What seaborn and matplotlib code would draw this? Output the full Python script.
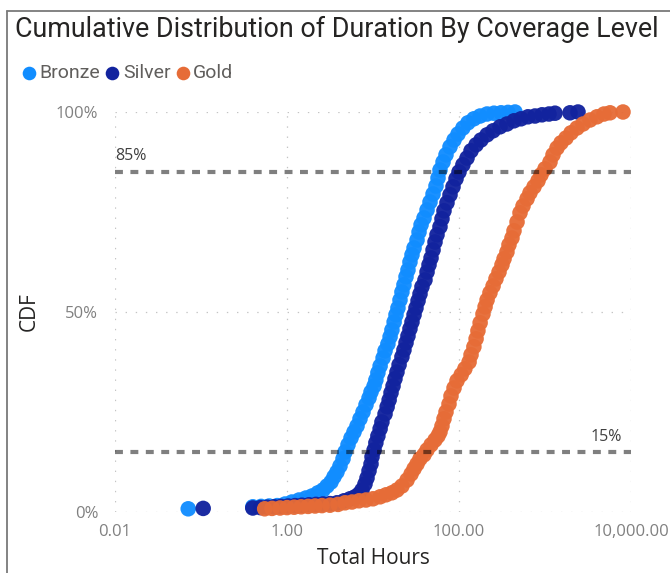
import matplotlib
matplotlib.use("Agg")
import matplotlib.pyplot as plt
import pandas as pd
import seaborn as sns
from matplotlib.lines import Line2D

# ---- data -------------------------------------------------------------
levels = ["Bronze", "Silver", "Gold"]
level_colors = ["#118DFF", "#12239E", "#E66C37"]

bronze_hours = [0.071, 0.40, 0.50, 0.62, 0.77, 0.95, 1.14, 1.38, 1.66, 1.95, 2.29, 2.62,
                2.92, 3.25, 3.52, 3.81, 4.13, 4.48, 4.73, 5.12, 5.55, 6.01, 6.52, 7.06,
                7.65, 8.29, 8.99, 9.48, 10.3, 10.8, 11.4, 12.1, 13.1, 13.8, 14.9, 15.8,
                16.6, 17.6, 18.5, 19.5, 20.6, 21.7, 22.9, 24.2, 25.5, 26.9, 28.4, 30.0,
                32.5, 34.3, 36.2, 39.2, 42.5, 46.0, 49.9, 54.0, 57.0, 60.1, 65.2, 70.6,
                78.6, 87.5, 97.4, 111, 127, 149, 176, 212, 255, 308, 371, 448]
bronze_cdf = [0.008, 0.013, 0.014, 0.015, 0.016, 0.020, 0.025, 0.030, 0.035, 0.040, 0.048, 0.055,
              0.065, 0.075, 0.088, 0.100, 0.115, 0.133, 0.150, 0.168, 0.185, 0.200, 0.215, 0.233,
              0.250, 0.268, 0.285, 0.300, 0.315, 0.330, 0.348, 0.365, 0.385, 0.403, 0.420, 0.438,
              0.455, 0.475, 0.493, 0.510, 0.530, 0.550, 0.568, 0.588, 0.605, 0.625, 0.643, 0.660,
              0.680, 0.700, 0.718, 0.735, 0.755, 0.775, 0.795, 0.815, 0.835, 0.855, 0.875, 0.893,
              0.913, 0.930, 0.945, 0.960, 0.973, 0.983, 0.990, 0.995, 0.997, 0.998, 0.999, 1.000]

silver_hours = [0.106, 0.40, 0.49, 0.59, 0.71, 0.85, 1.03, 1.24, 1.49, 1.80, 2.17, 2.62,
                3.16, 3.81, 4.60, 5.40, 6.18, 6.88, 7.45, 8.07, 8.52, 8.99, 9.48, 9.74,
                10.3, 10.8, 11.4, 12.1, 12.7, 13.8, 14.6, 15.4, 16.2, 17.1, 18.0, 19.0,
                20.1, 21.7, 22.9, 24.2, 25.5, 26.9, 28.4, 30.0, 31.6, 33.4, 35.2, 37.1,
                40.2, 42.5, 44.8, 47.3, 49.9, 52.6, 55.5, 60.1, 63.4, 66.9, 72.5, 78.6,
                85.2, 92.3, 100, 111, 124, 138, 158, 180, 212, 249, 300, 361,
                436, 526, 634, 765, 923, 1113, 1307, 1953, 2420]
silver_cdf = [0.009, 0.010, 0.011, 0.012, 0.013, 0.014, 0.015, 0.016, 0.017, 0.018, 0.019, 0.020,
              0.021, 0.023, 0.028, 0.033, 0.038, 0.045, 0.055, 0.070, 0.085, 0.103, 0.120, 0.138,
              0.155, 0.173, 0.190, 0.208, 0.225, 0.245, 0.263, 0.280, 0.298, 0.315, 0.333, 0.350,
              0.368, 0.388, 0.405, 0.423, 0.440, 0.458, 0.475, 0.493, 0.510, 0.528, 0.545, 0.563,
              0.580, 0.600, 0.618, 0.635, 0.655, 0.675, 0.693, 0.713, 0.733, 0.753, 0.773, 0.793,
              0.813, 0.833, 0.850, 0.868, 0.885, 0.903, 0.918, 0.930, 0.943, 0.953, 0.963, 0.970,
              0.978, 0.983, 0.988, 0.990, 0.993, 0.995, 0.997, 0.998, 1.000]

gold_hours = [0.55, 0.67, 0.83, 1.00, 1.21, 1.46, 1.76, 2.12, 2.55, 3.16, 3.92, 4.73,
              5.70, 6.88, 8.29, 10.0, 12.1, 14.2, 16.6, 19.0, 21.7, 24.9, 27.7, 30.0,
              32.5, 35.2, 39.2, 42.5, 47.3, 52.6, 57.0, 60.1, 63.4, 66.9, 70.6, 76.5,
              80.7, 87.5, 94.8, 106, 117, 131, 138, 149, 158, 166, 176, 190,
              201, 212, 229, 249, 269, 292, 316, 334, 361, 381, 413, 436,
              473, 512, 555, 618, 669, 745, 829, 899, 1000, 1143, 1239, 1379,
              1535, 1755, 2006, 2356, 2767, 3337, 4024, 4853, 5700, 8072]
gold_cdf = [0.008, 0.009, 0.010, 0.011, 0.012, 0.013, 0.014, 0.015, 0.016, 0.017, 0.019, 0.023,
            0.025, 0.028, 0.030, 0.033, 0.038, 0.043, 0.048, 0.055, 0.065, 0.080, 0.095, 0.108,
            0.120, 0.133, 0.143, 0.155, 0.168, 0.180, 0.190, 0.200, 0.215, 0.233, 0.250, 0.270,
            0.290, 0.310, 0.328, 0.343, 0.358, 0.375, 0.393, 0.413, 0.433, 0.453, 0.473, 0.495,
            0.513, 0.530, 0.548, 0.565, 0.583, 0.600, 0.618, 0.633, 0.650, 0.668, 0.685, 0.703,
            0.725, 0.748, 0.765, 0.783, 0.798, 0.813, 0.828, 0.843, 0.858, 0.875, 0.893, 0.910,
            0.923, 0.935, 0.948, 0.960, 0.970, 0.980, 0.988, 0.995, 0.998, 1.000]

x_ticks = [0.01, 1, 100, 10000]
x_tick_labels = ["0.01", "1.00", "100.00", "10,000.00"]
y_ticks = [0, 0.5, 1]
y_tick_labels = ["0%", "50%", "100%"]
ref_levels = [0.85, 0.15]
ref_labels = ["85%", "15%"]

title = "Cumulative Distribution of Duration By Coverage Level"

df = pd.concat([
    pd.DataFrame({"hours": bronze_hours, "cdf": bronze_cdf, "level": "Bronze"}),
    pd.DataFrame({"hours": silver_hours, "cdf": silver_cdf, "level": "Silver"}),
    pd.DataFrame({"hours": gold_hours, "cdf": gold_cdf, "level": "Gold"}),
], ignore_index=True)

# ---- figure -----------------------------------------------------------
sns.set_style("white")
plt.rcParams["font.family"] = ["Open Sans", "DejaVu Sans"]

W, H = 670, 573
fig = plt.figure(figsize=(W / 100, H / 100), dpi=100)
ax = fig.add_axes([115 / W, 1 - 512 / H, (631 - 115) / W, 400 / H])
renderer = fig.canvas.get_renderer()


def fit_width(txt, target_px):
    bb = txt.get_window_extent(renderer)
    txt.set_fontsize(txt.get_fontsize() * target_px / bb.width)


# visual frame (left and top edges)
frame_color = "#7a7a7a"
fig.add_artist(Line2D([7 / W, 7 / W], [0, 1 - 11 / H], color=frame_color, lw=1.3,
                      transform=fig.transFigure))
fig.add_artist(Line2D([7 / W, 1], [1 - 11 / H, 1 - 11 / H], color=frame_color, lw=1.3,
                      transform=fig.transFigure))

# title
t = fig.text(15 / W, 1 - 29 / H, title, ha="left", va="center", color="#252423",
             fontsize=16, family=["Roboto", "DejaVu Sans"])
fit_width(t, 645)

# legend
lx = 22
cy = 1 - 73 / H
for name, color in zip(levels, level_colors):
    fig.add_artist(Line2D([(lx + 6.5) / W], [cy], marker="o", ms=9.8, color=color,
                          mec="none", transform=fig.transFigure))
    lt = fig.text((lx + 17) / W, cy, name, ha="left", va="center", color="#605E5C",
                  fontsize=14, family=["Roboto", "DejaVu Sans"])
    lx = lt.get_window_extent(renderer).x1 + 6

# axes
ax.set_xscale("log")
ax.set_xlim(0.01, 10000)
ax.set_ylim(0, 1)
for s in ax.spines.values():
    s.set_visible(False)

grid_kw = dict(color="#c4c4c4", lw=0.9, ls=(0, (1.1, 7.0)), zorder=1)
for xt in x_ticks:
    ax.axvline(xt, **grid_kw)
for yt in y_ticks:
    ax.axhline(yt, **grid_kw)

sns.scatterplot(data=df, x="hours", y="cdf", hue="level", hue_order=levels,
                palette=level_colors, s=125, alpha=0.96, linewidth=0, legend=False,
                ax=ax, clip_on=False, zorder=3)

for lvl in ref_levels:
    ax.axhline(lvl, color="black", alpha=0.5, lw=3, ls=(0, (1.9, 1.8)), zorder=4)

ax.annotate(ref_labels[0], xy=(0, ref_levels[0]), xycoords=("axes fraction", "data"),
            xytext=(0, 16), textcoords="offset pixels", ha="left", va="center",
            color="#404040", fontsize=11.5)
ax.annotate(ref_labels[1], xy=(1, ref_levels[1]), xycoords=("axes fraction", "data"),
            xytext=(-9, 15), textcoords="offset pixels", ha="right", va="center",
            color="#404040", fontsize=11.5)

ax.set_xticks(x_ticks, x_tick_labels)
ax.set_yticks(y_ticks, y_tick_labels)
ax.xaxis.set_minor_locator(matplotlib.ticker.NullLocator())
ax.tick_params(axis="x", length=0, pad=9, labelsize=12, labelcolor="#808080")
ax.tick_params(axis="y", length=0, pad=12, labelsize=12, labelcolor="#808080")

ax.set_xlabel("Total Hours", fontsize=15, color="#252423")
ax.xaxis.label.set_va("center")
ax.xaxis.set_label_coords(0.5, (512 - 558) / 400)
ax.set_ylabel("CDF", fontsize=15, color="#252423")
ax.yaxis.label.set_va("center")
ax.yaxis.set_label_coords((29 - 115) / 516, 0.5)

fig.savefig("out.png", dpi=100)
